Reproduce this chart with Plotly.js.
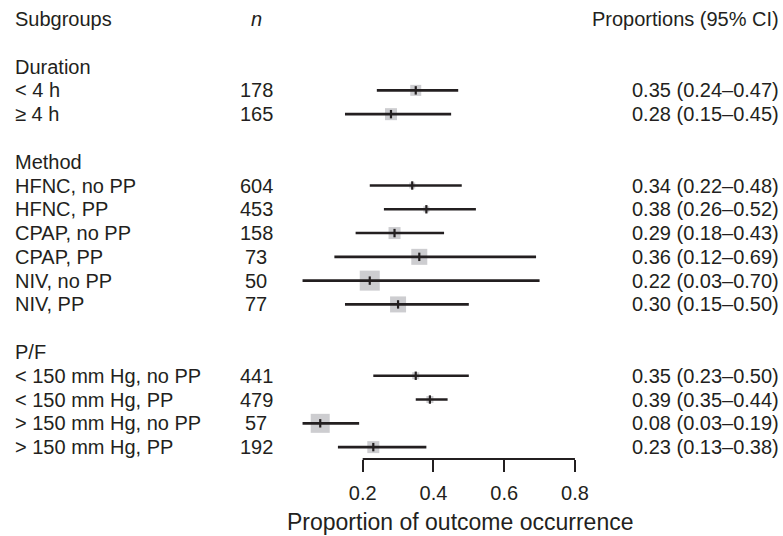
<!DOCTYPE html>
<html>
<head>
<meta charset="utf-8">
<script src="https://cdn.plot.ly/plotly-3.0.1.min.js"></script>
<style>
  html, body { margin: 0; padding: 0; background: #fff; }
  #chart { width: 783px; height: 536px; }
</style>
</head>
<body>
<div id="chart"></div>
<script>
// ---- Data ----
const headers = ['Subgroups', 'n', 'Proportions (95% CI)'];
const groupNames = ['Duration', 'Method', 'P/F'];
const groupSizes = [2, 6, 4];
const subgroups = ['< 4 h', '≥ 4 h',
  'HFNC, no PP', 'HFNC, PP', 'CPAP, no PP', 'CPAP, PP', 'NIV, no PP', 'NIV, PP',
  '< 150 mm Hg, no PP', '< 150 mm Hg, PP', '> 150 mm Hg, no PP', '> 150 mm Hg, PP'];
const nVals = [178, 165, 604, 453, 158, 73, 50, 77, 441, 479, 57, 192];
const est = [0.35, 0.28, 0.34, 0.38, 0.29, 0.36, 0.22, 0.30, 0.35, 0.39, 0.08, 0.23];
const lower = [0.24, 0.15, 0.22, 0.26, 0.18, 0.12, 0.03, 0.15, 0.23, 0.35, 0.03, 0.13];
const upper = [0.47, 0.45, 0.48, 0.52, 0.43, 0.69, 0.70, 0.50, 0.50, 0.44, 0.19, 0.38];
const weights = [11, 12, 6, 6, 12, 16, 20, 16, 7, 7, 19, 12];
const tickVals = [0.2, 0.4, 0.6, 0.8];
const tickText = ['0.2', '0.4', '0.6', '0.8'];
const xTitle = 'Proportion of outcome occurrence';

// ---- Layout helpers ----
const W = 783, H = 536;
const FONT = 'Liberation Sans, Arial, Helvetica, sans-serif';
const INK = '#231f20';
const BOX = '#b8b8bc';

// compute row positions
const groupRows = [];
const itemRows = [];
let r = 0;
groupNames.forEach((g, gi) => {
  groupRows.push(r);
  for (let k = 1; k <= groupSizes[gi]; k++) itemRows.push(r + k);
  r += groupSizes[gi] + 2;
});
const headerRow = -2;

// CI line segments
const ciX = [], ciY = [];
subgroups.forEach((s, i) => {
  ciX.push(lower[i], upper[i], null);
  ciY.push(itemRows[i], itemRows[i], null);
});

const traces = [
  { type: 'scatter', mode: 'markers', x: est, y: itemRows,
    marker: { symbol: 'square', size: weights, color: BOX, line: { width: 0 } },
    hoverinfo: 'skip', showlegend: false, cliponaxis: false },
  { type: 'scatter', mode: 'lines', x: ciX, y: ciY,
    line: { color: INK, width: 2.6 }, hoverinfo: 'skip', showlegend: false },
  { type: 'scatter', mode: 'markers', x: est, y: itemRows,
    marker: { symbol: 'line-ns', size: 6, color: INK, line: { color: INK, width: 2.2 } },
    hoverinfo: 'skip', showlegend: false, cliponaxis: false }
];

const colLeft = 13 / W, colN = 256 / W, colRight = 781 / W;
const ann = [];
const tf = { family: FONT, size: 20, color: INK };
ann.push({ xref: 'paper', yref: 'y', x: colLeft, y: headerRow, text: headers[0], xanchor: 'left', yanchor: 'middle', showarrow: false, font: tf });
ann.push({ xref: 'paper', yref: 'y', x: colN, y: headerRow, text: '<i>' + headers[1] + '</i>', xanchor: 'center', yanchor: 'middle', showarrow: false, font: tf });
ann.push({ xref: 'paper', yref: 'y', x: colRight, y: headerRow, text: headers[2], xanchor: 'right', yanchor: 'middle', showarrow: false, font: tf });
groupNames.forEach((g, gi) => {
  ann.push({ xref: 'paper', yref: 'y', x: colLeft, y: groupRows[gi], text: g, xanchor: 'left', yanchor: 'middle', showarrow: false, font: tf });
});
subgroups.forEach((s, i) => {
  ann.push({ xref: 'paper', yref: 'y', x: colLeft, y: itemRows[i], text: s, xanchor: 'left', yanchor: 'middle', showarrow: false, font: tf });
  ann.push({ xref: 'paper', yref: 'y', x: colN, y: itemRows[i], text: String(nVals[i]), xanchor: 'center', yanchor: 'middle', showarrow: false, font: tf });
  const txt = est[i].toFixed(2) + ' (' + lower[i].toFixed(2) + '–' + upper[i].toFixed(2) + ')';
  ann.push({ xref: 'paper', yref: 'y', x: colRight, y: itemRows[i], text: txt, xanchor: 'right', yanchor: 'middle', showarrow: false, font: tf });
});
// x-axis title
ann.push({ xref: 'paper', yref: 'paper',
  x: 285 / W, y: -0.137,
  text: xTitle, xanchor: 'left', yanchor: 'middle', showarrow: false,
  font: { family: FONT, size: 23, color: INK } });

const plotBottom = 77;
const layout = {
  width: W, height: H,
  margin: { l: 0, r: 0, t: 0, b: plotBottom, pad: 0 },
  paper_bgcolor: '#fff', plot_bgcolor: '#fff',
  showlegend: false,
  font: { family: FONT, size: 20, color: INK },
  xaxis: {
    range: [-0.8251, 1.388], fixedrange: true,
    showgrid: false, zeroline: false, showline: false,
    tickmode: 'array', tickvals: tickVals, ticktext: tickText,
    ticks: 'outside', ticklen: 12, tickwidth: 2, tickcolor: INK,
    ticklabelstandoff: 4,
    tickfont: { family: FONT, size: 20, color: INK }
  },
  yaxis: {
    range: [16.5, -2.8], fixedrange: true,
    showgrid: false, zeroline: false, showline: false, showticklabels: false, ticks: ''
  },
  shapes: [{ type: 'line', xref: 'x', yref: 'paper',
    x0: tickVals[0], x1: tickVals[tickVals.length - 1], y0: 0, y1: 0,
    line: { color: INK, width: 2 } }],
  annotations: ann
};

Plotly.newPlot('chart', traces, layout, { staticPlot: true, displayModeBar: false });
</script>
</body>
</html>
